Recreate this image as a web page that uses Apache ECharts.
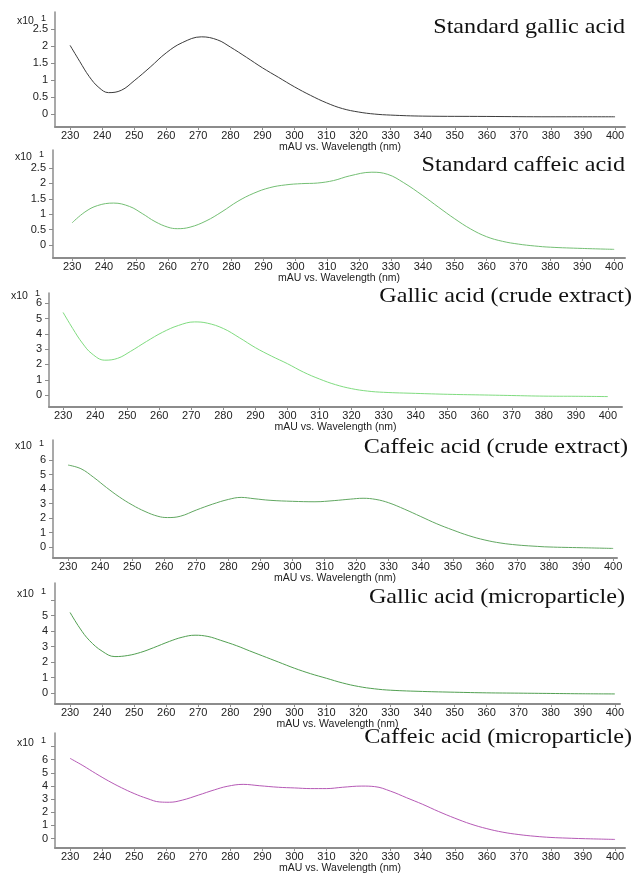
<!DOCTYPE html>
<html>
<head>
<meta charset="utf-8">
<title>UV spectra of gallic and caffeic acid</title>
<script src="https://cdn.jsdelivr.net/npm/echarts@6/dist/echarts.min.js"></script>
<style>
  html, body { margin: 0; padding: 0; background: #ffffff; }
  #chart { width: 634px; height: 875px; }
</style>
</head>
<body>
<div id="chart"></div>
<script>
// Spectra: wavelength (nm) and absorbance (mAU x10^1) for each sample

const stdGallicNm  = [230, 233, 236, 239, 242, 246, 250, 255, 260, 265, 271, 276, 280, 285, 290, 295, 300, 305, 310, 315, 320, 325, 330, 340, 360, 380, 400];
const stdGallicAbs = [2.02, 1.55, 1.1, 0.78, 0.63, 0.7, 0.98, 1.38, 1.8, 2.1, 2.27, 2.18, 1.97, 1.67, 1.36, 1.08, 0.8, 0.55, 0.33, 0.16, 0.06, 0.0, -0.03, -0.06, -0.07, -0.08, -0.08];

const stdCaffeicNm  = [230, 234, 238, 243, 248, 252, 256, 260, 263, 267, 272, 277, 282, 287, 292, 297, 302, 307, 312, 317, 324, 329, 334, 340, 345, 350, 355, 360, 365, 370, 375, 380, 390, 400];
const stdCaffeicAbs = [0.72, 1.07, 1.28, 1.36, 1.25, 1.02, 0.76, 0.58, 0.53, 0.58, 0.78, 1.08, 1.42, 1.68, 1.86, 1.95, 1.99, 2.01, 2.09, 2.24, 2.36, 2.29, 2.02, 1.6, 1.22, 0.85, 0.52, 0.27, 0.12, 0.03, -0.03, -0.07, -0.11, -0.14];

const gallicCrudeNm  = [230, 233, 236, 239, 243, 247, 251, 256, 261, 266, 271, 275, 280, 285, 290, 295, 300, 305, 310, 315, 320, 325, 330, 340, 350, 360, 370, 380, 390, 400];
const gallicCrudeAbs = [5.4, 4.35, 3.4, 2.7, 2.28, 2.4, 2.85, 3.5, 4.1, 4.55, 4.78, 4.7, 4.35, 3.75, 3.1, 2.55, 2.05, 1.5, 1.05, 0.68, 0.42, 0.26, 0.18, 0.11, 0.05, 0.01, -0.03, -0.07, -0.08, -0.1];

const caffeicCrudeNm  = [230, 234, 238, 242, 246, 250, 254, 258, 261, 265, 270, 275, 280, 284, 288, 293, 300, 307, 313, 318, 322, 326, 330, 335, 340, 345, 350, 355, 360, 365, 370, 375, 380, 390, 400];
const caffeicCrudeAbs = [5.65, 5.4, 4.8, 4.1, 3.45, 2.9, 2.45, 2.12, 2.03, 2.12, 2.55, 2.95, 3.28, 3.42, 3.33, 3.22, 3.15, 3.12, 3.2, 3.3, 3.36, 3.28, 3.05, 2.6, 2.1, 1.6, 1.17, 0.78, 0.48, 0.27, 0.14, 0.06, 0.0, -0.05, -0.1];

const gallicMicroNm  = [230, 233, 236, 240, 244, 248, 252, 256, 261, 265, 269, 273, 277, 282, 286, 290, 295, 300, 305, 310, 315, 320, 325, 330, 340, 350, 360, 370, 380, 390, 400];
const gallicMicroAbs = [5.2, 4.2, 3.4, 2.7, 2.35, 2.42, 2.62, 2.92, 3.33, 3.6, 3.73, 3.65, 3.4, 3.05, 2.72, 2.4, 2.0, 1.6, 1.25, 0.95, 0.65, 0.42, 0.27, 0.18, 0.1, 0.05, 0.01, -0.01, -0.03, -0.05, -0.06];

const caffeicMicroNm  = [230, 234, 238, 242, 246, 250, 254, 258, 261, 265, 270, 275, 279, 284, 289, 295, 300, 305, 310, 315, 321, 325, 330, 335, 340, 345, 350, 355, 360, 365, 370, 375, 380, 385, 390, 400];
const caffeicMicroAbs = [6.1, 5.55, 4.95, 4.38, 3.87, 3.42, 3.05, 2.78, 2.76, 2.92, 3.3, 3.7, 3.97, 4.12, 4.02, 3.9, 3.85, 3.8, 3.8, 3.9, 3.99, 3.95, 3.6, 3.1, 2.6, 2.05, 1.55, 1.1, 0.75, 0.48, 0.3, 0.17, 0.08, 0.03, -0.01, -0.07];

const panelTitles = ['Standard gallic acid', 'Standard caffeic acid', 'Gallic acid (crude extract)',
  'Caffeic acid (crude extract)', 'Gallic acid (microparticle)', 'Caffeic acid (microparticle)'];
const spectraNm  = [stdGallicNm, stdCaffeicNm, gallicCrudeNm, caffeicCrudeNm, gallicMicroNm, caffeicMicroNm];
const spectraAbs = [stdGallicAbs, stdCaffeicAbs, gallicCrudeAbs, caffeicCrudeAbs, gallicMicroAbs, caffeicMicroAbs];
const lineColors = ['#3c3c3c', '#74bf74', '#80dc80', '#62a862', '#52a052', '#b65ab6'];

// Tick labels
const xTicks = [230, 240, 250, 260, 270, 280, 290, 300, 310, 320, 330, 340, 350, 360, 370, 380, 390, 400];
const yTicksHalf = [0, 0.5, 1, 1.5, 2, 2.5];
const yTicks0to6 = [0, 1, 2, 3, 4, 5, 6];
const yTicks0to7 = [0, 1, 2, 3, 4, 5, 6, 7];
const yLabels0to5 = [0, 1, 2, 3, 4, 5];
const xAxisName = 'mAU vs. Wavelength (nm)';
const scaleLabel = 'x10';
const scaleExp = '1';

// Panel geometry (pixels) and axis extents
const panels = [
  { top: 12,  height: 115, left: 55, right: 9,  xMin: 225.3, xMax: 403.1, yMin: -0.38, yMax: 3.0,  yTicks: yTicksHalf, yLabels: yTicksHalf, titleY: 27,  titleX: 625, scaleTop: 14 },
  { top: 150, height: 108, left: 53, right: 9,  xMin: 224.0, xMax: 403.4, yMin: -0.42, yMax: 3.08, yTicks: yTicksHalf, yLabels: yTicksHalf, titleY: 165, titleX: 625, scaleTop: 150 },
  { top: 293, height: 114, left: 49, right: 12, xMin: 225.6, xMax: 404.4, yMin: -0.78, yMax: 6.67, yTicks: yTicks0to6, yLabels: yTicks0to6, titleY: 296, titleX: 632, scaleTop: 289 },
  { top: 440, height: 118, left: 53, right: 17, xMin: 225.3, xMax: 401.2, yMin: -0.76, yMax: 7.38, yTicks: yTicks0to6, yLabels: yTicks0to6, titleY: 447, titleX: 628, scaleTop: 439 },
  { top: 583, height: 121, left: 55, right: 14, xMin: 225.3, xMax: 401.6, yMin: -0.71, yMax: 7.1,  yTicks: yTicks0to6, yLabels: yLabels0to5, titleY: 597, titleX: 625, scaleTop: 587 },
  { top: 733, height: 120, left: 55, right: 9,  xMin: 225.3, xMax: 403.1, yMin: -0.73, yMax: 8.03, yTicks: yTicks0to7, yLabels: yTicks0to6, titleY: 737, titleX: 632, scaleTop: 736 }
];

const axisGray = '#8c8c8c';
const sansFont = 'Liberation Sans, Arial, sans-serif';
const labelFont = { fontFamily: sansFont, fontSize: 11, color: '#222' };

const grid = [], xAxis = [], yAxis = [], series = [], graphic = [];

panels.forEach((p, i) => {
  grid.push({ left: p.left, right: p.right, top: p.top, height: p.height, containLabel: false });
  xAxis.push({
    type: 'value', gridIndex: i, min: p.xMin, max: p.xMax,
    name: xAxisName, nameLocation: 'middle', nameGap: 4,
    nameTextStyle: { fontFamily: sansFont, fontSize: 10.5, color: '#222' },
    axisLine: { show: true, onZero: false, lineStyle: { color: axisGray, width: 2 } },
    axisTick: { show: true, length: 3, customValues: xTicks, lineStyle: { color: axisGray } },
    axisLabel: Object.assign({ margin: 3, customValues: xTicks }, labelFont),
    splitLine: { show: false }
  });
  yAxis.push({
    type: 'value', gridIndex: i, min: p.yMin, max: p.yMax,
    axisLine: { show: true, onZero: false, lineStyle: { color: axisGray, width: 1.5 } },
    axisTick: { show: true, length: 4, customValues: p.yTicks, lineStyle: { color: axisGray } },
    axisLabel: Object.assign({ margin: 7, customValues: p.yLabels }, labelFont),
    splitLine: { show: false }
  });
  series.push({
    type: 'line', xAxisIndex: i, yAxisIndex: i,
    data: spectraNm[i].map((w, k) => [w, spectraAbs[i][k]]),
    smooth: 0.4, showSymbol: false, silent: true,
    lineStyle: { color: lineColors[i], width: 1 }
  });
  // Panel heading, right-aligned, slightly widened serif
  graphic.push({
    type: 'text', x: p.titleX, y: p.titleY, scaleX: 1.15,
    style: {
      text: panelTitles[i], align: 'right', verticalAlign: 'middle',
      fontFamily: 'Liberation Serif, Times New Roman, serif', fontSize: 21, fill: '#111'
    }
  });
  // Axis multiplier "x10^1"
  graphic.push({
    type: 'text', left: p.left - 38, top: p.scaleTop,
    style: {
      text: '{a|' + scaleLabel + '}{b|' + scaleExp + '}',
      rich: {
        a: { fontFamily: sansFont, fontSize: 10.5, fill: '#222' },
        b: { fontFamily: sansFont, fontSize: 9, fill: '#222', padding: [0, 0, 6, 7] }
      }
    }
  });
});

const chart = echarts.init(document.getElementById('chart'), null, { renderer: 'canvas' });
chart.setOption({
  backgroundColor: '#ffffff',
  animation: false,
  grid, xAxis, yAxis, series, graphic
});
</script>
</body>
</html>
